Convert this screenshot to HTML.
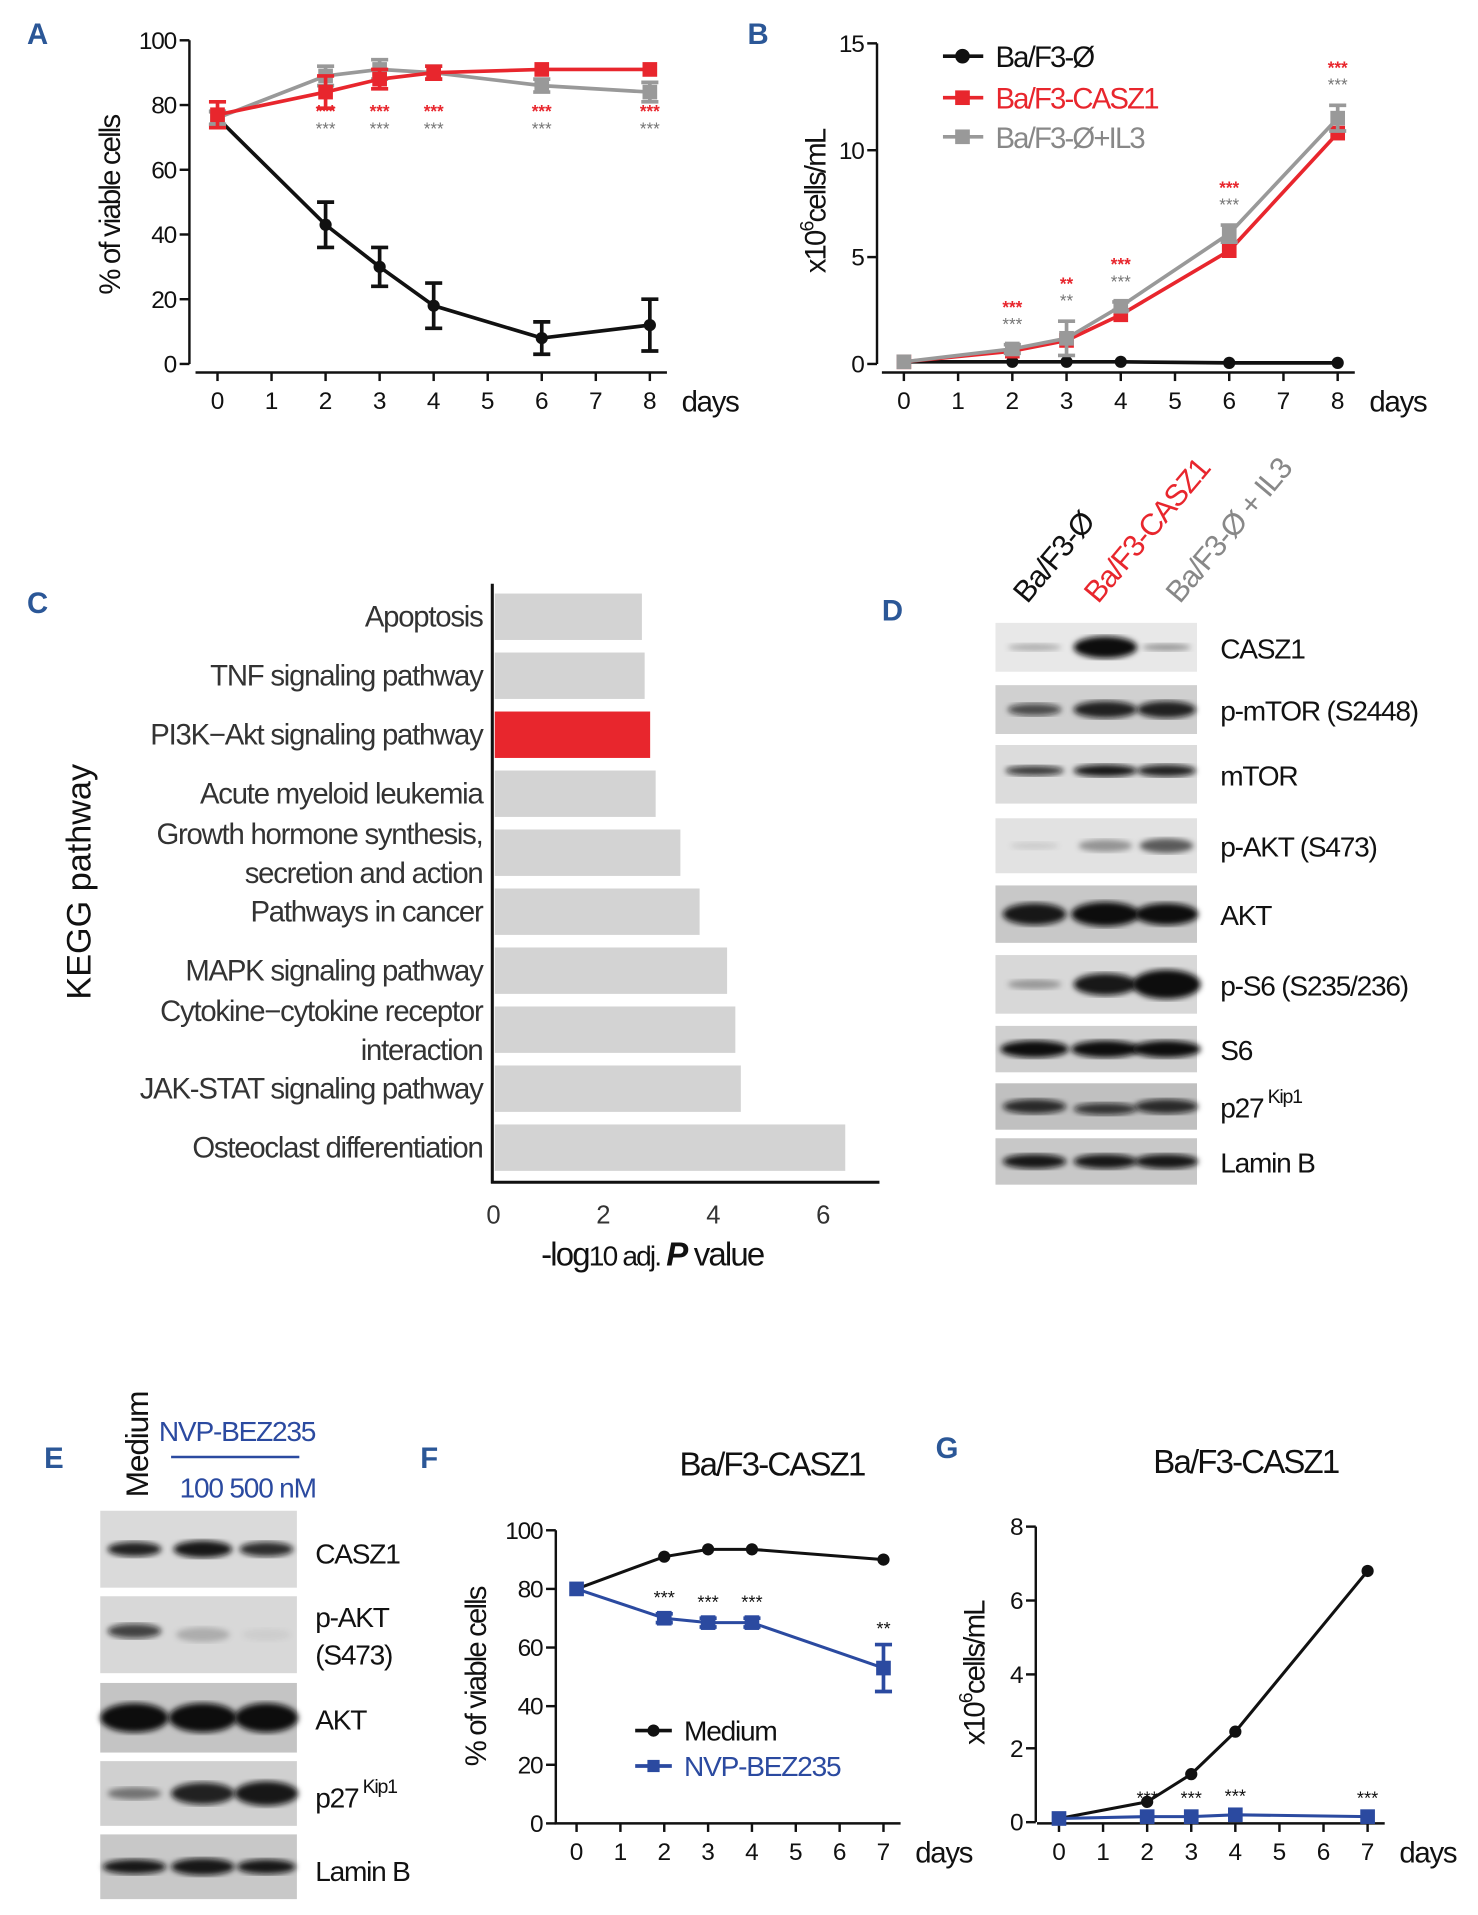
<!DOCTYPE html>
<html><head><meta charset="utf-8"><style>
html,body{margin:0;padding:0;background:#fff}
svg{display:block;font-family:"Liberation Sans",sans-serif}
</style></head><body>
<svg id="fig" width="1478" height="1915" viewBox="0 0 1210 1568" xmlns="http://www.w3.org/2000/svg">
<defs>
<filter id="blur2"><feGaussianBlur stdDeviation="2.5"/></filter>
</defs>
</svg>
<script>
// Panel A data
const daysA=[0,2,3,4,6,8];
const aBlack=[76,43,30,18,8,12];
const aBlackErr=[2,7,6,7,5,8];
const aRed=[77,84,88,90,91,91];
const aRedErr=[4,5,3,2,1,1];
const aGray=[76,89,91,90,86,84];
const aGrayErr=[2,3,3,2,2,3];
const aTicksY=[0,20,40,60,80,100];
const aTicksX=[0,1,2,3,4,5,6,7,8];
// Panel B data
const bBlack=[0.1,0.1,0.1,0.1,0.05,0.05];
const bRed=[0.1,0.6,1.1,2.3,5.3,10.8];
const bGray=[0.1,0.7,1.2,2.7,6.1,11.5];
const bGrayErr=[0.1,0.2,0.8,0.2,0.4,0.6];
const bTicksY=[0,5,10,15];
const bStarsRed=["","***","**","***","***","***"];
const bStarsGray=["","***","**","***","***","***"];
// Panel C data
const cCats=["Apoptosis","TNF signaling pathway","PI3K\u2212Akt signaling pathway","Acute myeloid leukemia",["Growth hormone synthesis,","secretion and action"],"Pathways in cancer","MAPK signaling pathway",["Cytokine\u2212cytokine receptor","interaction"],"JAK-STAT signaling pathway","Osteoclast differentiation"];
const cVals=[2.7,2.75,2.85,2.95,3.4,3.75,4.25,4.4,4.5,6.4];
const cTicks=[0,2,4,6];
// Panel F data
const daysF=[0,2,3,4,7];
const fMedium=[80,91,93.5,93.5,90];
const fDrug=[80,70,68.5,68.5,53];
const fDrugErr=[1,1.5,1.5,1.5,8];
const fStars=["","***","***","***","**"];
const fTicksY=[0,20,40,60,80,100];
const fgTicksX=[0,1,2,3,4,5,6,7];
// Panel G data
const gMedium=[0.1,0.55,1.3,2.45,6.8];
const gDrug=[0.1,0.15,0.15,0.2,0.15];
const gStars=["","***","***","***","***"];
const gTicksY=[0,2,4,6,8];

const NS="http://www.w3.org/2000/svg";
const svg=document.getElementById('fig');
function mk(tag,attrs,parent){const e=document.createElementNS(NS,tag);for(const k in attrs)e.setAttribute(k,attrs[k]);(parent||svg).appendChild(e);return e;}
function txt(s,x,y,size,fill,anchor,extra){const t=mk('text',Object.assign({x:x,y:y,'font-size':size,fill:fill||'#111','text-anchor':anchor||'start'},extra||{}));t.textContent=s;return t;}

// panel letters
[['A',22,36],['B',612,36],['C',22,502],['D',722,508],['E',36,1202],['F',344,1202],['G',766,1194]].forEach(p=>{
 const t=txt(p[0],p[1],p[2],24,'#2b5797','start',{'font-weight':'bold'});
 
 
});

function lineChart(o){
 const g=mk('g',{});
 
 
 const X=d=>o.x0+d*o.dx, Y=v=>o.y0-v*o.dy;
 // y axis
 const ya=mk('line',{x1:o.ax,y1:Y(o.ticksY[o.ticksY.length-1]),x2:o.ax,y2:Y(0),stroke:'#111','stroke-width':2},g);
 
 
 o.ticksY.forEach(v=>{mk('line',{x1:o.ax-8,y1:Y(v),x2:o.ax,y2:Y(v),stroke:'#111','stroke-width':2},g);
  const t=txt(String(v),o.ax-11,Y(v)+7,20,'#111','end',{'letter-spacing':'-1'});g.appendChild(t);
  
  });
 const xa=mk('line',{x1:X(0)-18,y1:o.xay,x2:X(o.ticksX[o.ticksX.length-1])+14,y2:o.xay,stroke:'#111','stroke-width':2},g);
 
 
 o.ticksX.forEach(d=>{mk('line',{x1:X(d),y1:o.xay,x2:X(d),y2:o.xay+7,stroke:'#111','stroke-width':2},g);
  const t=txt(String(d),X(d),o.xay+30,20,'#111','middle');g.appendChild(t);
  
  });
 const dl=txt('days',X(o.ticksX[o.ticksX.length-1])+26,o.xay+32,24,'#111','start',{'letter-spacing':'-1'});g.appendChild(dl);
 
 
 const yl=txt(o.ylab,0,0,24,'#111','middle',{transform:`translate(${o.ylx},${o.yly}) rotate(-90)`,'letter-spacing':'-1.5'});g.appendChild(yl);
 if(o.ysup){yl.textContent='x10';const ts=mk('tspan',{'font-size':16,dy:-10},yl);ts.textContent='6';const t2=mk('tspan',{dy:10},yl);t2.textContent='cells/mL';}
 
 
 o.series.forEach(s=>{
  const sg=mk('g',{},g);
  
  
  mk('polyline',{points:s.vals.map((v,i)=>X(o.days[i])+','+Y(v)).join(' '),fill:'none',stroke:s.color,'stroke-width':s.w||3},sg);
  s.vals.forEach((v,i)=>{
   const cx=X(o.days[i]),cy=Y(v);
   if(s.err){const e=s.err[i];if(e*o.dy>3){mk('path',{d:`M${cx},${Y(v+e)}V${Y(v-e)}M${cx-7},${Y(v+e)}h14M${cx-7},${Y(v-e)}h14`,stroke:s.color,'stroke-width':3,fill:'none'},sg);}}
   const m=s.marker==='circle'?mk('circle',{cx:cx,cy:cy,r:5,fill:s.color},sg):mk('rect',{x:cx-6,y:cy-6,width:12,height:12,fill:s.color},sg);
   
   
  });
 });
 return {g,X,Y};
}

// Panel A
const A=lineChart({name:'panel-a-chart',x0:178,dx:44.25,y0:298,dy:2.65,ax:155,xay:305,ticksY:aTicksY,ticksX:aTicksX,days:daysA,ylab:'% of viable cells',ylx:98,yly:168,
 series:[{key:'black',vals:aBlack,err:aBlackErr,color:'#111',marker:'circle'},{key:'gray',vals:aGray,err:aGrayErr,color:'#999',marker:'square'},{key:'red',vals:aRed,err:aRedErr,color:'#e8262d',marker:'square'}]});
daysA.forEach((d,i)=>{if(i===0)return;
 const r=txt('***',A.X(d),96,14,'#e8262d','middle',{'font-weight':'bold'});
 const g=txt('***',A.X(d),110,14,'#777','middle');});

// Panel B
const B=lineChart({name:'panel-b-chart',x0:740,dx:44.4,y0:298,dy:17.5,ax:718,xay:305,ticksY:bTicksY,ticksX:aTicksX,days:daysA,ylab:'x10',ysup:true,ylx:676,yly:165,
 series:[{key:'black',vals:bBlack,color:'#111',marker:'circle'},{key:'red',vals:bRed,color:'#e8262d',marker:'square'},{key:'gray',vals:bGray,err:bGrayErr,color:'#999',marker:'square'}]});
daysA.forEach((d,i)=>{if(!bStarsRed[i])return;const top=B.Y(bGray[i]+bGrayErr[i])-12;
 const r=txt(bStarsRed[i],B.X(d),top-14,14,'#e8262d','middle',{'font-weight':'bold'});
 const g=txt(bStarsGray[i],B.X(d),top,14,'#777','middle');});
// legend B
[['Ba/F3-\u00D8','#111','circle',46],['Ba/F3-CASZ1','#e8262d','square',80],['Ba/F3-\u00D8+IL3','#999','square',112]].forEach(l=>{
 const lg=mk('g',{});
 
 
 mk('line',{x1:772,y1:l[3],x2:805,y2:l[3],stroke:l[1],'stroke-width':3},lg);
 if(l[2]==='circle')mk('circle',{cx:788,cy:l[3],r:6,fill:l[1]},lg);else mk('rect',{x:782,y:l[3]-6,width:12,height:12,fill:l[1]},lg);
 lg.appendChild(txt(l[0],815,l[3]+9,24,l[1]==='#111'?'#111':(l[1]==='#999'?'#888':'#e8262d'),'start',{'letter-spacing':'-1.5'}));
});

// Panel C
(function(){
 const g=mk('g',{});
 
 
 const X=v=>404+v*45;const yc=i=>505+i*48.3;
 cVals.forEach((v,i)=>{
  const b=mk('rect',{x:405,y:yc(i)-19,width:X(v)-405,height:38,fill:i===2?'#e8262d':'#d3d3d3'},g);
  
  
  const lab=cCats[i];
  if(Array.isArray(lab)){
   const t1=txt(lab[0],395,yc(i)-7,24,'#333','end',{'letter-spacing':'-1'});g.appendChild(t1);
   
   
   const t2=txt(lab[1],395,yc(i)+25,24,'#333','end',{'letter-spacing':'-1'});g.appendChild(t2);
   
   
  }else{const t=txt(lab,395,yc(i)+8,24,'#333','end',{'letter-spacing':'-1'});g.appendChild(t);
   
   }
 });
 const ya=mk('line',{x1:403,y1:478,x2:403,y2:969,stroke:'#111','stroke-width':2.5},g);
 
 
 const xa=mk('line',{x1:402,y1:968,x2:720,y2:968,stroke:'#111','stroke-width':2.5},g);
 
 
 cTicks.forEach(v=>{const t=txt(String(v),X(v),1002,21,'#333','middle');g.appendChild(t);
  
  });
 const xt=txt('-log',443,1036,27,'#111','start',{'letter-spacing':'-1.5'});g.appendChild(xt);
 const s1=mk('tspan',{'font-size':23},xt);s1.textContent='10  adj. ';
 const s2=mk('tspan',{'font-weight':'bold','font-style':'italic'},xt);s2.textContent='P';
 const s3=mk('tspan',{},xt);s3.textContent=' value';
 
 
 const yt=txt('KEGG pathway',0,0,28,'#111','middle',{transform:'translate(74,722) rotate(-90)'});g.appendChild(yt);
 
 
})();

// blot helper
function blot(name,x,y,w,h,bg,bands){
 const g=mk('g',{});
 
 
 mk('rect',{x:x,y:y,width:w,height:h,fill:bg},g);
 bands.forEach(b=>{mk('ellipse',{cx:b[0],cy:y+h/2+(b[3]||0),rx:b[1],ry:b[2],fill:`rgba(10,10,10,${b[4]})`,filter:'url(#blur2)'},g);});
}
// Panel D
const dl=[847,905,955];
const drows=[
 ['CASZ1',510,40,'#e8e8e8',[[847,22,3,0,.25],[905,26,9,0,1],[955,20,3,0,.35]]],
 ['p-mTOR (S2448)',561,40,'#d0d0d0',[[847,22,5,0,.7],[905,26,7,0,.9],[955,24,7,0,.9]]],
 ['mTOR',610,48,'#dcdcdc',[[847,24,4,-3,.8],[905,26,5,-3,.95],[955,24,5,-3,.9]]],
 ['p-AKT (S473)',670,45,'#e2e2e2',[[847,20,3,0,.1],[905,22,5,0,.35],[955,22,6,0,.6]]],
 ['AKT',725,47,'#c8c8c8',[[847,26,9,0,.95],[905,28,10,0,1],[955,26,9,0,1]]],
 ['p-S6 (S235/236)',782,48,'#d8d8d8',[[847,22,4,0,.3],[905,26,9,0,.95],[955,28,12,0,1]]],
 ['S6',840,38,'#cfcfcf',[[847,28,7,0,1],[905,28,7,0,1],[955,28,7,0,1]]],
 ['p27',887,38,'#c0c0c0',[[847,26,6,0,.85],[905,26,5,2,.8],[955,26,6,0,.85]]],
 ['Lamin B',932,38,'#c8c8c8',[[847,26,6,0,.95],[905,26,6,0,.95],[955,26,6,0,.95]]]
];
drows.forEach(r=>{
 blot('blot-d-'+r[0].toLowerCase().replace(/[^a-z0-9]+/g,'-'),815,r[1],165,r[2],r[3],r[4]);
 const t=txt(r[0],999,r[1]+r[2]/2+9,23,'#111','start',{'letter-spacing':'-1'});
 if(r[0]==='p27'){const ts=mk('tspan',{'font-size':16,dy:-12},t);ts.textContent=' Kip1';}
 
 
});
[['Ba/F3-\u00D8','#111',845],['Ba/F3-CASZ1','#e8262d',903],['Ba/F3-\u00D8 + IL3','#888',970]].forEach(c=>{
 const t=txt(c[0],0,0,25,c[1],'start',{transform:`translate(${c[2]-4},495) rotate(-50)`,'letter-spacing':'-1'});
 
 
});
// Panel E
const erows=[
 ['CASZ1',1237,63,'#dadada',[[110,22,6,0,.9],[166,24,7,0,.95],[218,22,6,0,.85]]],
 ['p-AKT',1307,63,'#d8d8d8',[[110,22,6,-3,.75],[166,22,6,0,.2],[218,20,5,0,.05]]],
 ['AKT',1378,57,'#c4c4c4',[[110,28,12,0,1],[166,28,12,0,1],[218,26,12,0,1]]],
 ['p27',1442,53,'#d0d0d0',[[110,22,5,0,.45],[166,26,9,0,.9],[218,26,10,0,.95]]],
 ['Lamin B',1502,53,'#c8c8c8',[[110,26,6,0,.95],[166,26,7,0,.95],[218,24,6,0,.95]]]
];
erows.forEach(r=>{blot('blot-e-'+r[0].toLowerCase().replace(/[^a-z0-9]+/g,'-'),82,r[1],161,r[2],r[3],r[4]);});
[['CASZ1',1280],['p-AKT',1332],['(S473)',1363],['AKT',1416],['p27',1480],['Lamin B',1540]].forEach(l=>{
 const t=txt(l[0],258,l[1],23,'#111','start',{'letter-spacing':'-1'});
 if(l[0]==='p27'){const ts=mk('tspan',{'font-size':16,dy:-12},t);ts.textContent=' Kip1';}
 
 
});
const med=txt('Medium',0,0,26,'#111','start',{transform:'translate(121,1226) rotate(-90)','letter-spacing':'-1'});


const nvp=txt('NVP-BEZ235',130,1180,23,'#2b4aa0','start',{'letter-spacing':'-1'});


const nl=mk('line',{x1:140,y1:1193,x2:245,y2:1193,stroke:'#2b4aa0','stroke-width':2});


const dose=txt('100  500  nM',147,1226,23,'#2b4aa0','start',{'letter-spacing':'-1'});



// Panel F
const F=lineChart({name:'panel-f-chart',x0:472,dx:35.9,y0:1493,dy:2.4,ax:455,xay:1493,ticksY:fTicksY,ticksX:fgTicksX,days:daysF,ylab:'% of viable cells',ylx:398,yly:1373,
 series:[{key:'medium',vals:fMedium,color:'#111',marker:'circle',w:2.5},{key:'nvp',vals:fDrug,err:fDrugErr,color:'#2b4aa0',marker:'square',w:2.5}]});
daysF.forEach((d,i)=>{if(!fStars[i])return;const t=txt(fStars[i],F.X(d),F.Y(fDrug[i]+fDrugErr[i])-8,15,'#111','middle');});
const ft=txt('Ba/F3-CASZ1',632,1208,27,'#111','middle',{'letter-spacing':'-1.5'});


[['Medium','#111','circle',1417],['NVP-BEZ235','#2b4aa0','square',1446]].forEach(l=>{
 const lg=mk('g',{});
 
 
 mk('line',{x1:520,y1:l[3],x2:550,y2:l[3],stroke:l[1],'stroke-width':3},lg);
 if(l[2]==='circle')mk('circle',{cx:535,cy:l[3],r:5,fill:l[1]},lg);else mk('rect',{x:530,y:l[3]-5,width:10,height:10,fill:l[1]},lg);
 lg.appendChild(txt(l[0],560,l[3]+8,23,l[1],'start',{'letter-spacing':'-1'}));
});
// Panel G
const G=lineChart({name:'panel-g-chart',x0:867,dx:36.1,y0:1492,dy:30.25,ax:848,xay:1493,ticksY:gTicksY,ticksX:fgTicksX,days:daysF,ylab:'x10',ysup:true,ylx:806,yly:1370,
 series:[{key:'medium',vals:gMedium,color:'#111',marker:'circle',w:2.5},{key:'nvp',vals:gDrug,color:'#2b4aa0',marker:'square',w:2.5}]});
daysF.forEach((d,i)=>{if(!gStars[i])return;const t=txt(gStars[i],G.X(d),G.Y(gDrug[i])-10,15,'#111','middle');});
const gt=txt('Ba/F3-CASZ1',1020,1206,27,'#111','middle',{'letter-spacing':'-1.5'});


</script>
</body></html>
